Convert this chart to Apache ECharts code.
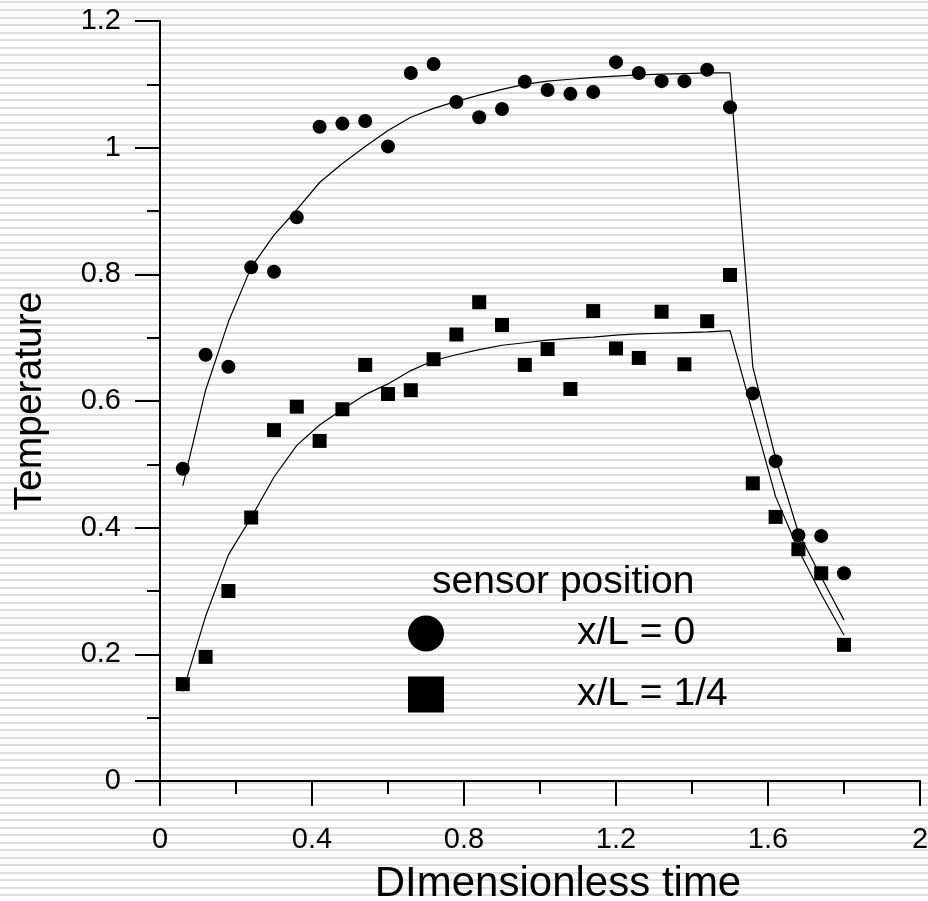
<!DOCTYPE html>
<html>
<head>
<meta charset="utf-8">
<script src="https://cdn.jsdelivr.net/npm/echarts@6/dist/echarts.min.js"></script>
<style>
    html, body {
        margin: 0;
        padding: 0;
        width: 928px;
        height: 901px;
        overflow: hidden;
        background: repeating-linear-gradient(to bottom, #fff 0px, #fff 1.5px, #dedede 1.5px, #dedede 3.5px, #fff 3.5px, #fff 7.5px);
    }
    #chart { width: 928px; height: 901px; }
</style>
</head>
<body>
<div id="chart"></div>
<script>
// dimensionless time of each sample
var times = [0.06, 0.12, 0.18, 0.24, 0.30, 0.36, 0.42, 0.48, 0.54, 0.60,
    0.66, 0.72, 0.78, 0.84, 0.90, 0.96, 1.02, 1.08, 1.14, 1.20,
    1.26, 1.32, 1.38, 1.44, 1.50, 1.56, 1.62, 1.68, 1.74, 1.80];

// measured, x/L = 0
var sensor0 = [0.493, 0.673, 0.654, 0.811, 0.804, 0.890, 1.033, 1.038, 1.042, 1.002,
    1.118, 1.132, 1.072, 1.048, 1.061, 1.104, 1.091, 1.085, 1.088, 1.135,
    1.118, 1.105, 1.105, 1.123, 1.064, 0.612, 0.505, 0.388, 0.387, 0.328];

// measured, x/L = 1/4
var sensorQuarter = [0.153, 0.196, 0.300, 0.416, 0.554, 0.591, 0.537, 0.587, 0.657, 0.611,
    0.617, 0.666, 0.705, 0.756, 0.720, 0.657, 0.682, 0.619, 0.742, 0.683,
    0.668, 0.741, 0.658, 0.726, 0.799, 0.470, 0.417, 0.366, 0.328, 0.215];

// model curves
var fit0 = [0.466, 0.617, 0.725, 0.811, 0.862, 0.902, 0.945, 0.975, 1.002, 1.027,
    1.048, 1.062, 1.073, 1.083, 1.092, 1.100, 1.105, 1.108, 1.111, 1.113,
    1.115, 1.116, 1.117, 1.118, 1.118, 0.654, 0.510, 0.392, 0.322, 0.254];

var fitQuarter = [0.141, 0.260, 0.357, 0.416, 0.480, 0.530, 0.562, 0.587, 0.610, 0.627,
    0.648, 0.664, 0.673, 0.681, 0.688, 0.692, 0.696, 0.699, 0.701, 0.704,
    0.706, 0.707, 0.708, 0.709, 0.711, 0.580, 0.449, 0.365, 0.295, 0.230];

var legendNames = ['x/L = 0', 'x/L = 1/4'];

function pairs(ys) {
    return times.map(function (t, i) { return [t, ys[i]]; });
}

var myChart = echarts.init(document.getElementById('chart'));

var axisFont = { fontFamily: 'Liberation Sans', fontSize: 29, color: '#000' };

option = {
    backgroundColor: 'transparent',
    animation: false,
    textStyle: { fontFamily: 'Liberation Sans', color: '#000' },
    grid: { left: 160, right: 8, top: 21, bottom: 120, containLabel: false, outerBoundsMode: 'none' },
    title: {
        text: 'sensor position',
        left: 432,
        top: 563,
        padding: 0,
        textStyle: { fontFamily: 'Liberation Sans', fontSize: 39, fontWeight: 'normal', color: '#000' }
    },
    legend: {
        orient: 'vertical',
        left: 408,
        top: 614,
        padding: 0,
        itemWidth: 36,
        itemHeight: 36,
        itemGap: 22,
        data: [
            { name: legendNames[0], icon: 'circle' },
            { name: legendNames[1], icon: 'rect' }
        ],
        textStyle: { fontFamily: 'Liberation Sans', fontSize: 39, color: '#000', padding: [0, 0, 0, 128] }
    },
    xAxis: {
        type: 'value',
        min: 0,
        max: 2,
        interval: 0.4,
        name: 'DImensionless time',
        nameLocation: 'middle',
        nameGap: 82,
        nameTextStyle: { fontFamily: 'Liberation Sans', fontSize: 42, color: '#000', padding: [0, 0, 0, 36] },
        axisLine: { lineStyle: { color: '#000', width: 2 } },
        axisTick: { length: 25, lineStyle: { color: '#000', width: 2 } },
        minorTick: { show: true, splitNumber: 2, length: 13, lineStyle: { color: '#000', width: 2 } },
        axisLabel: Object.assign({ margin: 44, showMaxLabel: true, showMinLabel: true }, axisFont),
        splitLine: { show: false }
    },
    yAxis: {
        type: 'value',
        min: 0,
        max: 1.2,
        interval: 0.2,
        name: 'Temperature',
        nameLocation: 'middle',
        nameGap: 110,
        nameTextStyle: { fontFamily: 'Liberation Sans', fontSize: 39, color: '#000' },
        axisLine: { show: true, lineStyle: { color: '#000', width: 2 } },
        axisTick: { show: true, length: 25, lineStyle: { color: '#000', width: 2 } },
        minorTick: { show: true, splitNumber: 2, length: 13, lineStyle: { color: '#000', width: 2 } },
        axisLabel: Object.assign({ margin: 39 }, axisFont),
        splitLine: { show: false }
    },
    series: [{
        name: 'fit0',
        type: 'line',
        data: pairs(fit0),
        symbol: 'none',
        silent: true,
        lineStyle: { color: '#000', width: 1.2 },
        z: 2
    }, {
        name: 'fitQuarter',
        type: 'line',
        data: pairs(fitQuarter),
        symbol: 'none',
        silent: true,
        lineStyle: { color: '#000', width: 1.2 },
        z: 2
    }, {
        name: legendNames[0],
        type: 'scatter',
        data: pairs(sensor0),
        symbol: 'circle',
        symbolSize: 14,
        itemStyle: { color: '#000', opacity: 1 },
        z: 3
    }, {
        name: legendNames[1],
        type: 'scatter',
        data: pairs(sensorQuarter),
        symbol: 'rect',
        symbolSize: 14,
        itemStyle: { color: '#000', opacity: 1 },
        z: 3
    }]
};

myChart.setOption(option);
</script>
</body>
</html>
